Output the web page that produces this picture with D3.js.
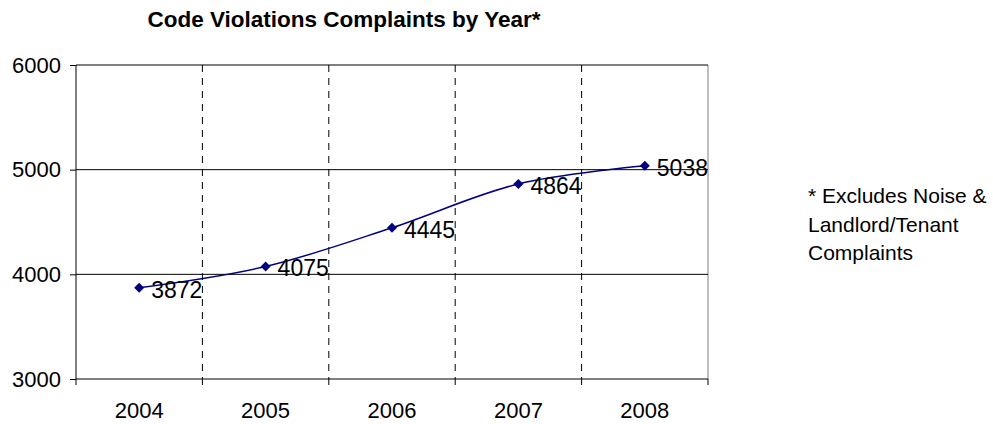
<!DOCTYPE html>
<html>
<head>
<meta charset="utf-8">
<script src="https://cdn.jsdelivr.net/npm/d3@7"></script>
<style>
  body { margin: 0; background: #fff; }
  text { font-family: Arial, "Liberation Sans", sans-serif; }
</style>
</head>
<body>
<div></div>
<script>
const width = 993;
const height = 424;

// chart data
const years = ['2004', '2005', '2006', '2007', '2008'];
const complaints = [3872, 4075, 4445, 4864, 5038];
const yTicks = [3000, 4000, 5000, 6000];
const noteLines = ['* Excludes Noise &', 'Landlord/Tenant', 'Complaints'];

const margin = {left: 76, right: 285, top: 65, bottom: 45};

const svg = d3.select('div').append('svg').attr('width', width).attr('height', height);

const x = d3.scaleBand()
    .domain(years)
    .range([margin.left, width - margin.right]);

const y = d3.scaleLinear()
    .domain([3000, 6000])
    .range([height - margin.bottom, margin.top]);

// title
svg.append('text')
    .attr('x', 344)
    .attr('y', 27)
    .attr('text-anchor', 'middle')
    .style('font-size', '22.5px')
    .style('font-weight', 'bold')
    .text('Code Violations Complaints by Year*');

// plot area border (right side gray)
svg.append('line')
    .attr('x1', x.range()[1]).attr('x2', x.range()[1])
    .attr('y1', y(6000)).attr('y2', y(3000))
    .attr('stroke', '#808080').attr('stroke-width', 1);

// vertical dashed grid at band boundaries
const bounds = years.slice(1).map(d => x(d));
svg.append('g').selectAll('line')
    .data(bounds)
    .enter().append('line')
    .attr('x1', d => d).attr('x2', d => d)
    .attr('y1', y(6000)).attr('y2', y(3000))
    .attr('stroke', '#000')
    .attr('stroke-width', 1)
    .attr('stroke-dasharray', '7,6');

// horizontal grid
svg.append('g').selectAll('line')
    .data(yTicks.slice(1))
    .enter().append('line')
    .attr('x1', x.range()[0]).attr('x2', x.range()[1])
    .attr('y1', d => y(d)).attr('y2', d => y(d))
    .attr('stroke', '#000').attr('stroke-width', 1);

// y axis
const yAxis = svg.append('g')
    .attr('transform', 'translate(' + margin.left + ',0)')
    .call(d3.axisLeft(y).tickValues(yTicks).tickSize(6).tickPadding(9).tickFormat(d3.format('d')));
yAxis.selectAll('text').style('font-size', '22px').attr('fill', '#000');
yAxis.selectAll('line, path').attr('stroke', '#000');
yAxis.select('.domain').attr('d', 'M0,' + y(6000) + 'V' + y(3000));

// x axis: ticks at band boundaries, labels at centres
const xg = svg.append('g')
    .attr('transform', 'translate(0,' + y(3000) + ')');
xg.append('line')
    .attr('x1', x.range()[0]).attr('x2', x.range()[1])
    .attr('stroke', '#000');
xg.selectAll('.tk')
    .data([x.range()[0]].concat(bounds, [x.range()[1]]))
    .enter().append('line')
    .attr('class', 'tk')
    .attr('x1', d => d).attr('x2', d => d)
    .attr('y1', 0).attr('y2', 6)
    .attr('stroke', '#000');
xg.selectAll('text')
    .data(years)
    .enter().append('text')
    .attr('x', d => x(d) + x.bandwidth() / 2)
    .attr('y', 39)
    .attr('text-anchor', 'middle')
    .style('font-size', '22px')
    .text(d => d);

// line
const pts = years.map((d, i) => [x(d) + x.bandwidth() / 2, y(complaints[i])]);
svg.append('path')
    .attr('d', d3.line().curve(d3.curveCatmullRom.alpha(0.5))(pts))
    .attr('fill', 'none')
    .attr('stroke', '#000080')
    .attr('stroke-width', 1.5);

// markers
svg.append('g').selectAll('path')
    .data(pts)
    .enter().append('path')
    .attr('d', 'M0,-5L5,0L0,5L-5,0Z')
    .attr('transform', d => 'translate(' + d[0] + ',' + d[1] + ')')
    .attr('fill', '#000080');

// data labels
svg.append('g').selectAll('text')
    .data(pts)
    .enter().append('text')
    .attr('x', d => d[0] + 12)
    .attr('y', d => d[1] + 10)
    .style('font-size', '23px')
    .text((d, i) => complaints[i]);

// note
svg.append('g').selectAll('text')
    .data(noteLines)
    .enter().append('text')
    .attr('x', 808)
    .attr('y', (d, i) => 203 + i * 28.5)
    .style('font-size', '21px')
    .text(d => d);
</script>
</body>
</html>
